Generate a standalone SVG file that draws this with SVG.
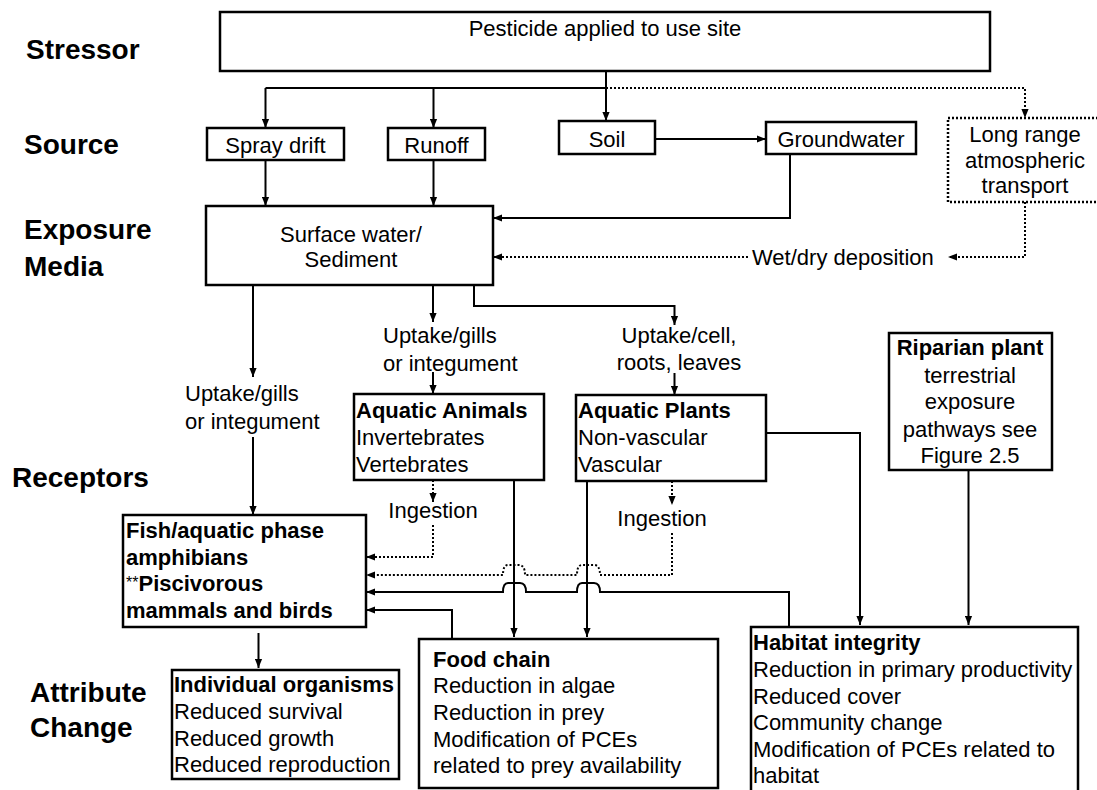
<svg xmlns="http://www.w3.org/2000/svg" width="1097" height="790" viewBox="0 0 1097 790">
<style>
text{font-family:"Liberation Sans",Arial,sans-serif;font-size:22px;fill:#000}
.lab{font-size:28px;font-weight:bold}
.b{font-weight:bold}
.m{text-anchor:middle}
.box{fill:#fff;stroke:#000;stroke-width:2.5}
.dbox{fill:#fff;stroke:#000;stroke-width:2.5;stroke-dasharray:2 2}
.c{fill:none;stroke:#000;stroke-width:2}
.d{fill:none;stroke:#000;stroke-width:2;stroke-dasharray:2 2}
</style>
<defs>
<marker id="ah" viewBox="0 0 10 8" refX="10" refY="4" markerWidth="9" markerHeight="8" markerUnits="userSpaceOnUse" orient="auto">
<path d="M0,0 L10,4 L0,8 z" fill="#000"/>
</marker>
</defs>
<rect width="1097" height="790" fill="#fff"/>

<g id="labels">
<text class="lab" x="26" y="59">Stressor</text>
<text class="lab" x="24" y="154">Source</text>
<text class="lab" x="24" y="239">Exposure</text>
<text class="lab" x="24" y="276">Media</text>
<text class="lab" x="12" y="487">Receptors</text>
<text class="lab" x="30" y="702">Attribute</text>
<text class="lab" x="30" y="737">Change</text>
</g>

<g id="connectors">
<path class="c" d="M265.5,88 H606"/>
<path class="c" d="M265.5,88 V128" marker-end="url(#ah)"/>
<path class="c" d="M433.5,88 V128" marker-end="url(#ah)"/>
<path class="c" d="M606,71 V121" marker-end="url(#ah)"/>
<path class="d" d="M606,88 H1025 V118" marker-end="url(#ah)"/>
<path class="c" d="M265.5,160 V206" marker-end="url(#ah)"/>
<path class="c" d="M433.5,160 V206" marker-end="url(#ah)"/>
<path class="c" d="M655,139 H766" marker-end="url(#ah)"/>
<path class="c" d="M790,154 V218 H493" marker-end="url(#ah)"/>
<path class="d" d="M1025,202 V257 H948" marker-end="url(#ah)"/>
<path class="d" d="M748,257 H493" marker-end="url(#ah)"/>
<path class="c" d="M253,285 V377" marker-end="url(#ah)"/>
<path class="c" d="M253,437 V515" marker-end="url(#ah)"/>
<path class="c" d="M433,285 V322" marker-end="url(#ah)"/>
<path class="c" d="M433,372 V394" marker-end="url(#ah)"/>
<path class="c" d="M474,285 V306 H674.5 V325" marker-end="url(#ah)"/>
<path class="c" d="M674.5,373 V395" marker-end="url(#ah)"/>
<path class="d" d="M433,480 V502" marker-end="url(#ah)"/>
<path class="d" d="M433,525 V557 H366" marker-end="url(#ah)"/>
<path class="d" d="M672,481 V505" marker-end="url(#ah)"/>
<path class="d" d="M672,533 V575 H600 Q600,565 594,565 L582,565 Q577,565 577,575 H525 Q525,565 519,565 L508,565 Q503,565 503,575 H366" marker-end="url(#ah)"/>
<path class="c" d="M789,627 V592 H600 Q600,583 594,583 L582,583 Q577,583 577,592 H526 Q526,583 520,583 L508,583 Q503,583 503,592 H366" marker-end="url(#ah)"/>
<path class="c" d="M452,639 V610 H366" marker-end="url(#ah)"/>
<path class="c" d="M514,480 V637" marker-end="url(#ah)"/>
<path class="c" d="M587,473 V637" marker-end="url(#ah)"/>
<path class="c" d="M766,433 H860 V625" marker-end="url(#ah)"/>
<path class="c" d="M968.5,470 V625" marker-end="url(#ah)"/>
<path class="c" d="M258.5,633 V668" marker-end="url(#ah)"/>
</g>

<g id="stressor">
<rect class="box" x="220" y="12" width="770" height="59"/>
<text class="m" x="605" y="36">Pesticide applied to use site</text>
</g>
<g id="spray">
<rect class="box" x="207" y="128" width="137" height="32"/>
<text class="m" x="275.5" y="153">Spray drift</text>
</g>
<g id="runoff">
<rect class="box" x="388" y="128" width="97" height="32"/>
<text class="m" x="436.5" y="153">Runoff</text>
</g>
<g id="soil">
<rect class="box" x="559" y="121" width="96" height="33"/>
<text class="m" x="607" y="147">Soil</text>
</g>
<g id="groundwater">
<rect class="box" x="766" y="122" width="150" height="32"/>
<text class="m" x="841" y="147">Groundwater</text>
</g>
<g id="longrange">
<rect class="dbox" x="948" y="118" width="160" height="84"/>
<text class="m" x="1025" y="142">Long range</text>
<text class="m" x="1025" y="168">atmospheric</text>
<text class="m" x="1025" y="193">transport</text>
</g>
<g id="surface">
<rect class="box" x="206" y="206" width="287" height="79"/>
<text class="m" x="351" y="242">Surface water/</text>
<text class="m" x="351" y="267">Sediment</text>
</g>
<g id="wetdry">
<text x="752" y="265">Wet/dry deposition</text>
</g>
<g id="uptake-left">
<text x="185" y="401">Uptake/gills</text>
<text x="185" y="429">or integument</text>
</g>
<g id="uptake-mid">
<text x="383" y="343">Uptake/gills</text>
<text x="383" y="371">or integument</text>
</g>
<g id="uptake-right">
<text class="m" x="679" y="343">Uptake/cell,</text>
<text class="m" x="679" y="370">roots, leaves</text>
</g>
<g id="animals">
<rect class="box" x="354" y="394" width="190" height="86"/>
<text class="b" x="356" y="418">Aquatic Animals</text>
<text x="356" y="445">Invertebrates</text>
<text x="356" y="472">Vertebrates</text>
</g>
<g id="plants">
<rect class="box" x="576" y="395" width="190" height="86"/>
<text class="b" x="578" y="418">Aquatic Plants</text>
<text x="578" y="445">Non-vascular</text>
<text x="578" y="472">Vascular</text>
</g>
<g id="riparian">
<rect class="box" x="889" y="333" width="163" height="137"/>
<text class="b m" x="970" y="355">Riparian plant</text>
<text class="m" x="970" y="383">terrestrial</text>
<text class="m" x="970" y="409">exposure</text>
<text class="m" x="970" y="437">pathways see</text>
<text class="m" x="970" y="463">Figure 2.5</text>
</g>
<g id="ingestion-animals">
<text class="m" x="433" y="518">Ingestion</text>
</g>
<g id="ingestion-plants">
<text class="m" x="662" y="526">Ingestion</text>
</g>
<g id="fish">
<rect class="box" x="123" y="515" width="243" height="112"/>
<text class="b" x="126" y="538">Fish/aquatic phase</text>
<text class="b" x="126" y="565">amphibians</text>
<text x="126" y="591"><tspan font-size="16" dy="-3">**</tspan><tspan class="b" dy="3">Piscivorous</tspan></text>
<text class="b" x="126" y="618">mammals and birds</text>
</g>
<g id="individual">
<rect class="box" x="172" y="670" width="227" height="109"/>
<text class="b" x="174" y="692">Individual organisms</text>
<text x="174" y="719">Reduced survival</text>
<text x="174" y="746">Reduced growth</text>
<text x="174" y="772">Reduced reproduction</text>
</g>
<g id="foodchain">
<rect class="box" x="419" y="639" width="299" height="149"/>
<text class="b" x="433" y="667">Food chain</text>
<text x="433" y="693">Reduction in algae</text>
<text x="433" y="720">Reduction in prey</text>
<text x="433" y="747">Modification of PCEs</text>
<text x="433" y="773">related to prey availability</text>
</g>
<g id="habitat">
<rect class="box" x="751" y="627" width="327" height="175"/>
<text class="b" x="753" y="650">Habitat integrity</text>
<text x="753" y="677">Reduction in primary productivity</text>
<text x="753" y="704">Reduced cover</text>
<text x="753" y="730">Community change</text>
<text x="753" y="757">Modification of PCEs related to</text>
<text x="753" y="783">habitat</text>
</g>
</svg>
